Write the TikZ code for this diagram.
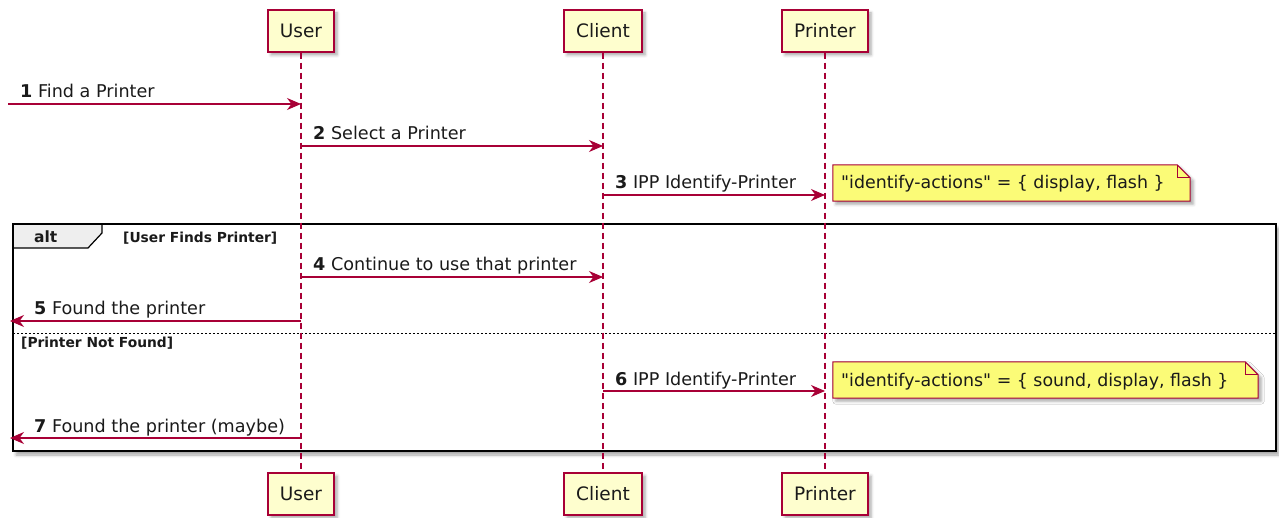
\documentclass[tikz,border=0pt]{standalone}
\usepackage{fontspec}
\setmainfont{DejaVu Sans}[Ligatures=TeXOff]
\usetikzlibrary{arrows.meta,shadows.blur,calc}
\definecolor{pumlred}{HTML}{A80036}
\definecolor{pumlfill}{HTML}{FEFECE}
\definecolor{notefill}{HTML}{FBFB77}
\definecolor{txt}{HTML}{1A1A1A}
\definecolor{tabfill}{HTML}{EEEEEE}
\begin{document}
\begin{tikzpicture}[x=1pt,y=-1pt,
  pshadow/.style={blur shadow={shadow xshift=3pt,shadow yshift=-3pt,shadow blur radius=3pt,shadow opacity=35}},
  participant/.style={draw=pumlred, fill=pumlfill, line width=1.5pt, minimum height=42pt, inner sep=0pt,
    font=\fontsize{18.5}{20}\selectfont, text=txt, pshadow},
  lifeline/.style={draw=pumlred, line width=1.2pt, dash pattern=on 6pt off 4pt},
  msg/.style={draw=pumlred, line width=1.2pt, -{Stealth[length=14pt,width=12pt,inset=4.5pt]}},
  msglabel/.style={anchor=base west, inner sep=0pt, font=\fontsize{17.6}{20}\selectfont, text=txt},
  notebox/.style={minimum width=357pt, minimum height=36pt, inner sep=0pt},
  notepath/.style={draw=pumlred, fill=notefill, line width=1pt, pshadow},
  notetext/.style={anchor=base west, inner sep=0pt, font=\fontsize{17.4}{20}\selectfont, text=txt},
  grouplabel/.style={anchor=base west, inner sep=0pt, font=\fontsize{13.8}{15}\selectfont\bfseries, text=txt},
]
\useasboundingbox (0,0) rectangle (1279,518);

% participants
\node[participant, minimum width=66pt] (uT) at (301,31) {User};
\node[participant, minimum width=78pt] (cT) at (603,31) {Client};
\node[participant, minimum width=86pt] (pT) at (825,31) {Printer};
\node[participant, minimum width=66pt] (uB) at (301,494) {User};
\node[participant, minimum width=78pt] (cB) at (603,494) {Client};
\node[participant, minimum width=86pt] (pB) at (825,494) {Printer};

% alt frame
\draw[line width=2.5pt, fill=white, blur shadow={shadow xshift=3pt,shadow yshift=-4pt,shadow blur radius=3pt,shadow opacity=35}]
  (13,224) rectangle (1276,451);
\draw[line width=1.2pt, fill=tabfill] (13,224) -- (102,224) -- (102,233) -- (88,248) -- (13,248) -- cycle;
\draw[line width=2.5pt] (13,224) rectangle (1276,451);
\node[anchor=base west, inner sep=0pt, font=\fontsize{15.5}{17}\selectfont\bfseries, text=txt] (altlbl) at (34,243) {alt};
\node[grouplabel] (g1) at (123,243) {[User Finds Printer]};
\draw[line width=0.8pt, dash pattern=on 2pt off 2pt] (13,333) -- (1276,333);
\node[grouplabel] (g2) at (21,348) {[Printer Not Found]};

% lifelines
\draw[lifeline] (uT.south) -- (uB.north);
\draw[lifeline] (cT.south) -- (cB.north);
\draw[lifeline] (pT.south) -- (pB.north);

% messages
\coordinate (in1) at (8,104);
\draw[msg] (in1) -- (uT |- 0,104);
\node[msglabel] (l1) at (20,98) {\textbf{1} Find a Printer};

\draw[msg] (uT |- 0,146) -- (cT |- 0,146);
\node[msglabel] (l2) at (313,140) {\textbf{2} Select a Printer};

\draw[msg] (cT |- 0,195) -- (pT |- 0,195);
\node[msglabel] (l3) at (615,189) {\textbf{3} IPP Identify-Printer};

\node[notebox] (n1) at (1011.5,183) {};
\draw[notepath] (n1.north west) -- ([xshift=-13pt]n1.north east) -- ([yshift=-13pt]n1.north east) -- (n1.south east) -- (n1.south west) -- cycle;
\draw[draw=pumlred, line width=1pt] ([xshift=-13pt]n1.north east) -- ([xshift=-13pt,yshift=-13pt]n1.north east) -- ([yshift=-13pt]n1.north east);
\node[notetext] (t1) at (841,189) {"identify-actions" = \{ display, flash \}};

\draw[msg] (uT |- 0,277) -- (cT |- 0,277);
\node[msglabel] (l4) at (313,271) {\textbf{4} Continue to use that printer};

\coordinate (out5) at (10,321);
\draw[msg] (uT |- 0,321) -- (out5);
\node[msglabel] (l5) at (34,315) {\textbf{5} Found the printer};

\draw[msg] (cT |- 0,391) -- (pT |- 0,391);
\node[msglabel] (l6) at (615,385) {\textbf{6} IPP Identify-Printer};

\node[notebox, minimum width=425pt] (n2) at (1045.5,380) {};
\draw[notepath] (n2.north west) -- ([xshift=-13pt]n2.north east) -- ([yshift=-13pt]n2.north east) -- (n2.south east) -- (n2.south west) -- cycle;
\draw[draw=pumlred, line width=1pt] ([xshift=-13pt]n2.north east) -- ([xshift=-13pt,yshift=-13pt]n2.north east) -- ([yshift=-13pt]n2.north east);
\node[notetext] (t2) at (841,386) {"identify-actions" = \{ sound, display, flash \}};

\coordinate (out7) at (10,438);
\draw[msg] (uT |- 0,438) -- (out7);
\node[msglabel] (l7) at (34,432) {\textbf{7} Found the printer (maybe)};
\end{tikzpicture}
\end{document}
